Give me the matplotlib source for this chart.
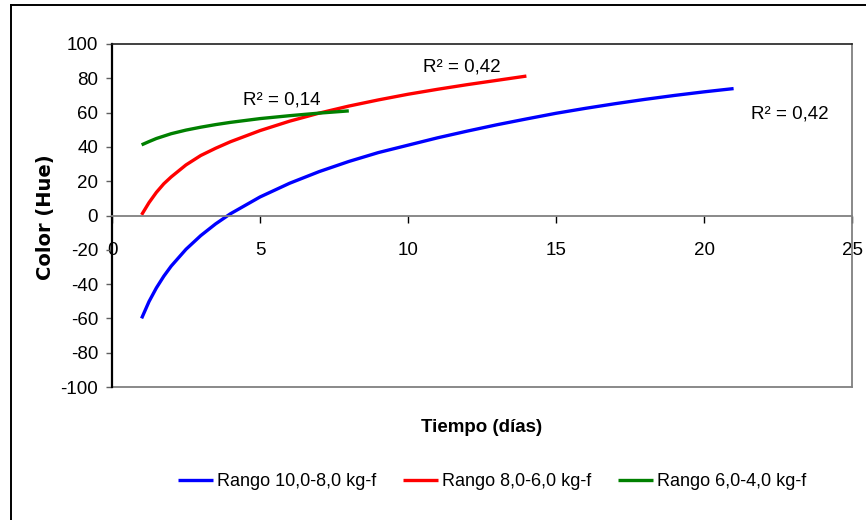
import matplotlib
matplotlib.use('Agg')
import matplotlib.pyplot as plt
from matplotlib.lines import Line2D

# Trendline values (days, hue)
blue_x = [1, 1.25, 1.5, 1.75, 2, 2.5, 3, 3.5, 4, 5, 6, 7, 8, 9, 10,
          11, 12, 13, 14, 15, 16, 17, 18, 19, 20, 21]
blue_y = [-60, -50.2, -42.2, -35.4, -29.5, -19.7, -11.7, -4.9, 1.0, 10.8,
          18.8, 25.6, 31.5, 36.7, 41.0, 45.3, 49.2, 52.9, 56.3, 59.6,
          62.5, 65.2, 67.7, 70.0, 72.1, 74.0]

red_x = [1, 1.25, 1.5, 1.75, 2, 2.5, 3, 3.5, 4, 5, 6, 7, 8, 9, 10, 11, 12, 13, 14]
red_y = [0.4, 7.5, 13.5, 18.5, 22.5, 29.5, 35.0, 39.2, 43.0, 49.5, 55.0,
         59.7, 63.8, 67.4, 70.7, 73.6, 76.3, 78.8, 81.3]

green_x = [1, 1.25, 1.5, 2, 2.5, 3, 3.5, 4, 5, 6, 7, 8]
green_y = [41.2, 43.1, 44.9, 47.7, 49.8, 51.5, 53.0, 54.3, 56.5, 58.2, 59.7, 61.0]

series_labels = ['Rango 10,0-8,0 kg-f', 'Rango 8,0-6,0 kg-f', 'Rango 6,0-4,0 kg-f']
r2_labels = ['R² = 0,42', 'R² = 0,42', 'R² = 0,14']
r2_pos = [(21.6, 56.4), (10.5, 84.0), (4.43, 64.5)]

plt.rcParams['font.family'] = ['Liberation Sans', 'DejaVu Sans']
plt.rcParams['axes.unicode_minus'] = False

fig = plt.figure(figsize=(8.66, 5.20), dpi=100)
ax = fig.add_axes([112/866, 1 - 387/520, 740/866, 343/520])

colors = ['#0000FF', '#FF0000', '#008000']
for xs, ys, c, lab in zip([blue_x, red_x, green_x], [blue_y, red_y, green_y],
                          colors, series_labels):
    ax.plot(xs, ys, color=c, lw=2.4, label=lab, solid_capstyle='butt')

for txt, (tx, ty) in zip(r2_labels, r2_pos):
    ax.text(tx, ty, txt, fontsize=13.5, ha='left', va='baseline')

ax.set_xlim(0, 25)
ax.set_ylim(-100, 100)
ax.set_xticks(range(0, 26, 5))
ax.set_yticks(range(-100, 101, 20))

# x axis crosses at zero, Excel style
ax.spines['bottom'].set_position(('data', 0))
ax.spines['bottom'].set_color('#808080')
ax.spines['bottom'].set_linewidth(1.3)
ax.spines['left'].set_color('black')
ax.spines['left'].set_linewidth(1.6)
ax.spines['top'].set_color('#202020')
ax.spines['top'].set_linewidth(1.2)
ax.spines['right'].set_color('#808080')
ax.spines['right'].set_linewidth(1.3)
ax.axhline(-100, color='#808080', lw=1.3, clip_on=False)

ax.tick_params(axis='x', direction='out', length=5, width=1, color='black',
               pad=14, labelsize=13.5)
ax.tick_params(axis='y', direction='out', length=4, width=1, color='#606060',
               pad=6, labelsize=13.5)

fig.text(482/866, 1 - 427/520, 'Tiempo (días)', ha='center', va='center',
         fontsize=13.5, fontweight='bold')
fig.text(45/866, 1 - 217/520, 'Color (Hue)', ha='center', va='center',
         rotation=90, fontsize=14, fontweight='bold', family='DejaVu Sans')

fig.legend(loc='center', bbox_to_anchor=(492/866, 1 - 482/520), ncol=3,
           frameon=False, fontsize=13, handlelength=1.95, handletextpad=0.2,
           columnspacing=1.5)

# outer chart border
fig.add_artist(Line2D([11/866, 11/866], [0, 1 - 5/520], color='black', lw=1.4,
                      transform=fig.transFigure))
fig.add_artist(Line2D([11/866, 1], [1 - 5/520, 1 - 5/520], color='black', lw=1.4,
                      transform=fig.transFigure))

fig.savefig('out.png', dpi=100)
